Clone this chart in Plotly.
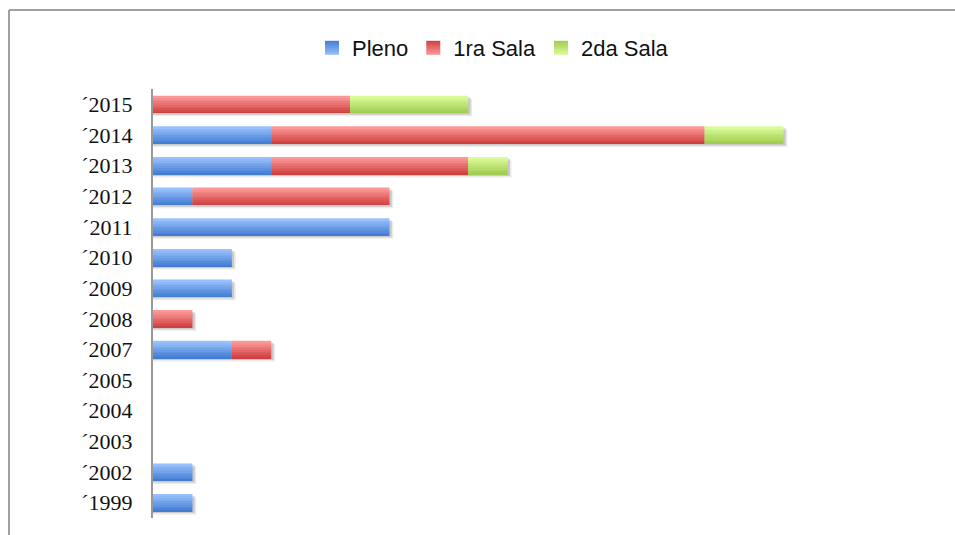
import plotly.graph_objects as go

years = ["´1999", "´2002", "´2003", "´2004", "´2005", "´2007", "´2008",
         "´2009", "´2010", "´2011", "´2012", "´2013", "´2014", "´2015"]
pleno = [1, 1, 0, 0, 0, 2, 0, 2, 2, 6, 1, 3, 3, 0]
sala1 = [0, 0, 0, 0, 0, 1, 1, 0, 0, 0, 5, 5, 11, 5]
sala2 = [0, 0, 0, 0, 0, 0, 0, 0, 0, 0, 0, 1, 2, 3]

series = [
    ("Pleno", pleno, (152, 192, 252), (66, 125, 210)),
    ("1ra Sala", sala1, (252, 152, 152), (208, 64, 64)),
    ("2da Sala", sala2, (218, 252, 152), (160, 204, 80)),
]

W = 0.56      # bar thickness in category units
N = 10        # gradient slices

fig = go.Figure()

# soft shadow under each full bar
totals = [a + b + c for a, b, c in zip(pleno, sala1, sala2)]
for k, (alpha, dy, dx) in enumerate([(0.08, 0.11, 0.10), (0.14, 0.06, 0.06)]):
    fig.add_trace(go.Bar(
        y=years, x=[t + dx if t else 0 for t in totals], base=0,
        orientation="h", width=W, offset=-W / 2 - dy,
        marker=dict(color=f"rgba(0,0,0,{alpha})", line_width=0),
        showlegend=False, hoverinfo="skip"))

base = [0] * len(years)
for name, vals, top, bot in series:
    for i in range(N):
        t = i / (N - 1)
        c = tuple(round(bot[j] + (top[j] - bot[j]) * t) for j in range(3))
        fig.add_trace(go.Bar(
            y=years, x=vals, base=base, orientation="h",
            width=W / N + 0.002, offset=-W / 2 + i * W / N,
            marker=dict(color=f"rgb{c}", line_width=0),
            name=name, legendgroup=name, showlegend=False,
            hoverinfo="skip"))
    base = [b + v for b, v in zip(base, vals)]
    # legend swatch: square marker with vertical gradient
    fig.add_trace(go.Scatter(
        x=[None], y=[None], mode="markers", name=name, legendgroup=name,
        marker=dict(symbol="square", size=14, color=f"rgb{bot}",
                    gradient=dict(type="vertical", color=f"rgb{top}"),
                    line_width=0),
        hoverinfo="skip"))

L, R, T, B = 153, 15, 89, 17
pw = 955 - L - R
ph = 535 - T - B

bx0 = (9 - L) / pw
by1 = (535 - B - 10) / ph
border = dict(color="#a0a0a0", width=2)

fig.update_layout(
    width=955, height=535,
    barmode="overlay",
    paper_bgcolor="white", plot_bgcolor="white",
    margin=dict(l=L, r=R, t=T, b=B),
    legend=dict(orientation="h", x=0.432, xanchor="center", y=(535 - B - 48) / ph,
                yanchor="middle", font=dict(family="Liberation Sans Narrow, Arial Narrow, Liberation Sans",
                                            size=22, color="#111"),
                itemwidth=30, tracegroupgap=0, bgcolor="rgba(0,0,0,0)"),
    xaxis=dict(range=[0, pw / 39.4], showgrid=False, zeroline=False,
               showticklabels=False, ticks=""),
    yaxis=dict(type="category", categoryorder="array", categoryarray=years,
               range=[-0.5, len(years) - 0.5],
               showline=True, linecolor="#999", linewidth=2,
               showgrid=False, ticks="", ticklabelstandoff=14,
               tickfont=dict(family="Liberation Serif, DejaVu Serif", size=22, color="#111")),
    shapes=[
        dict(type="line", xref="paper", yref="paper", x0=bx0, x1=(1000 - L) / pw,
             y0=by1, y1=by1, line=border, layer="below"),
        dict(type="line", xref="paper", yref="paper", x0=bx0, x1=bx0,
             y0=-0.2, y1=by1, line=border, layer="below"),
    ],
)

fig.write_html("out.html", config={"displayModeBar": False},
               post_script="document.body.style.margin='0';document.body.style.overflow='hidden';")
